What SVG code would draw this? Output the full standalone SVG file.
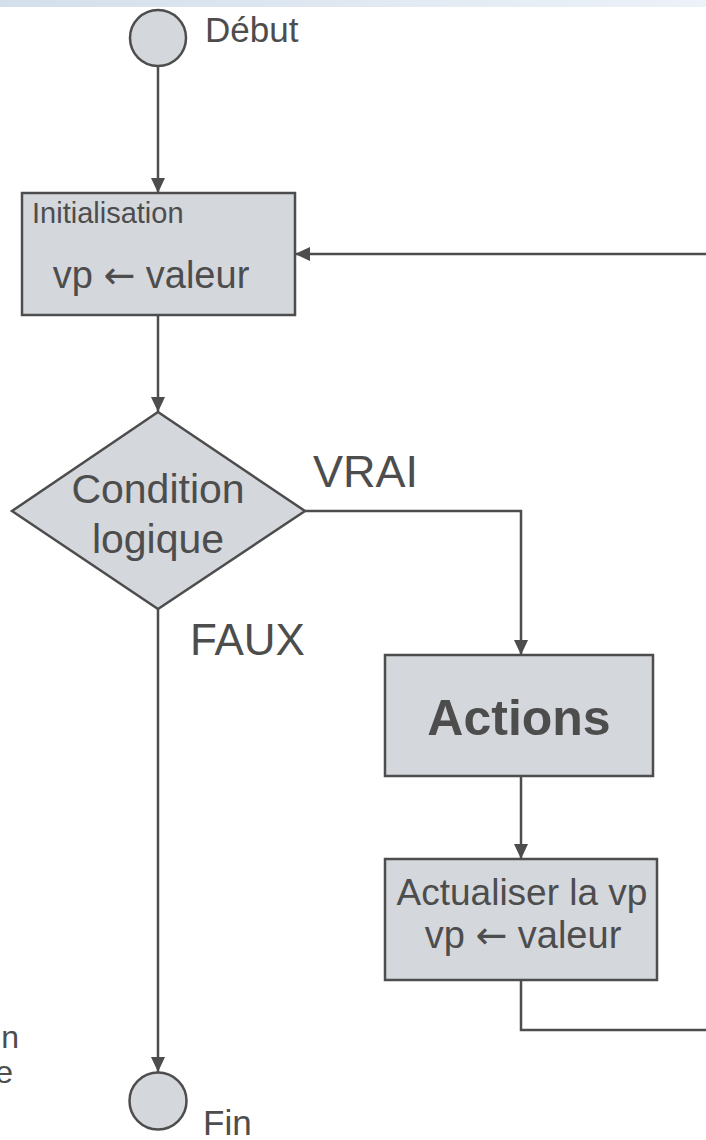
<svg xmlns="http://www.w3.org/2000/svg" width="706" height="1140" viewBox="0 0 706 1140">
<defs>
<linearGradient id="band" x1="0" y1="0" x2="1" y2="0">
<stop offset="0" stop-color="#d3dfeb"/>
<stop offset="1" stop-color="#edf2f8"/>
</linearGradient>
<marker id="arr" markerUnits="userSpaceOnUse" markerWidth="16" markerHeight="16" viewBox="0 0 16 16" refX="15" refY="8" orient="auto">
<path d="M0,1 L15,8 L0,15 Z" fill="#4d4d4d"/>
</marker>
<style>
.shape{fill:#d4d7dc;stroke:#4d4d4d;stroke-width:2.5}
.conn{fill:none;stroke:#4d4d4d;stroke-width:2.5}
.t{font-family:"Liberation Sans",Arial,sans-serif;fill:#4d4d4d}
.ar{font-family:"DejaVu Sans",sans-serif}
</style>
</defs>
<rect x="0" y="0" width="706" height="7" fill="url(#band)"/>
<g id="connectors">
<path class="conn" d="M158,66 V193" marker-end="url(#arr)"/>
<path class="conn" d="M158,315 V412" marker-end="url(#arr)"/>
<path class="conn" d="M305,511 H521 V655" marker-end="url(#arr)"/>
<path class="conn" d="M521,776 V859" marker-end="url(#arr)"/>
<path class="conn" d="M521,980 V1030 H708"/>
<path class="conn" d="M708,254 H295" marker-end="url(#arr)"/>
<path class="conn" d="M158,609 V1072" marker-end="url(#arr)"/>
</g>
<g id="debut">
<circle class="shape" cx="158" cy="38" r="28"/>
<text class="t" x="205" y="42" font-size="35">Début</text>
</g>
<g id="init">
<rect class="shape" x="22" y="193" width="273" height="122"/>
<text class="t" x="32" y="223" font-size="29">Initialisation</text>
<text class="t" x="151" y="288" font-size="38" text-anchor="middle">vp <tspan class="ar">←</tspan> valeur</text>
</g>
<g id="condition">
<polygon class="shape" points="158,412 305,511 158,609 12,511"/>
<text class="t" x="158" y="503" font-size="41" text-anchor="middle">Condition</text>
<text class="t" x="158" y="553" font-size="41" text-anchor="middle">logique</text>
</g>
<g id="labels">
<text class="t" x="313" y="487" font-size="45">VRAI</text>
<text class="t" x="190" y="655" font-size="44">FAUX</text>
</g>
<g id="actions">
<rect class="shape" x="385" y="655" width="268" height="121"/>
<text class="t" x="519" y="735" font-size="50" font-weight="bold" text-anchor="middle">Actions</text>
</g>
<g id="actualiser">
<rect class="shape" x="385" y="859" width="272" height="121"/>
<text class="t" x="522" y="905" font-size="37" text-anchor="middle">Actualiser la vp</text>
<text class="t" x="523" y="948" font-size="38" text-anchor="middle">vp <tspan class="ar">←</tspan> valeur</text>
</g>
<g id="fin">
<circle class="shape" cx="158" cy="1101" r="28.5"/>
<text class="t" x="203" y="1135" font-size="35">Fin</text>
</g>
<g id="clipped-text">
<text class="t" x="19" y="1048" font-size="32" text-anchor="end">n</text>
<text class="t" x="13" y="1083" font-size="32" text-anchor="end">e</text>
</g>
</svg>
